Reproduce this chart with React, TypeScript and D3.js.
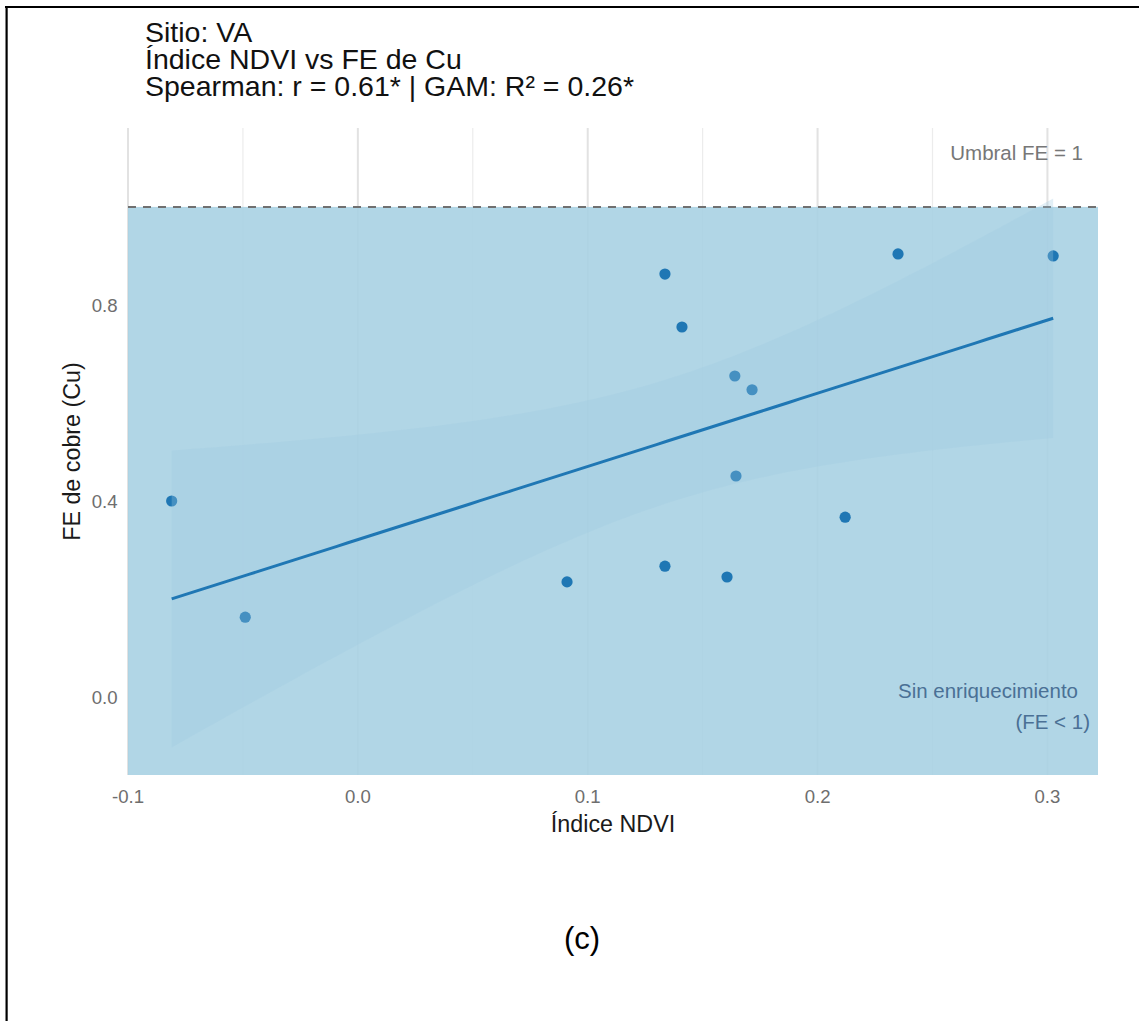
import React from "react";
import * as d3 from "d3";

// NDVI index and copper enrichment factor (FE) per sample, site VA
const ndvi = [-0.081, -0.049, 0.091, 0.1336, 0.1336, 0.141, 0.1606, 0.164, 0.1715, 0.1645, 0.212, 0.235, 0.3025];
const feCu = [0.4, 0.163, 0.235, 0.863, 0.267, 0.755, 0.245, 0.655, 0.627, 0.451, 0.367, 0.904, 0.9];

const xTicks = [-0.1, 0.0, 0.1, 0.2, 0.3];
const xMinor = [-0.05, 0.05, 0.15, 0.25];
const yTicks = [0.0, 0.4, 0.8];
const titleLines = ["Sitio: VA", "Índice NDVI vs FE de Cu", "Spearman: r = 0.61* | GAM: R² = 0.26*"];
const threshold = 1;

const W = 1148;
const H = 1021;
const panel = { left: 128, right: 1098, top: 128, bottom: 775 };
const FONT = "'Liberation Sans', Arial, Helvetica, sans-serif";

const x = d3.scaleLinear().domain([-0.1, 0.322]).range([panel.left, panel.right]);
const y = d3.scaleLinear().domain([-0.159, 1.161]).range([panel.bottom, panel.top]);

// linear smooth with a 95% normal-approximation band
function smoothFit(xs: number[], ys: number[]) {
  const n = xs.length;
  const mx = d3.mean(xs) as number;
  const my = d3.mean(ys) as number;
  let sxx = 0;
  let sxy = 0;
  xs.forEach((xi, i) => {
    sxx += (xi - mx) * (xi - mx);
    sxy += (xi - mx) * (ys[i] - my);
  });
  const b = sxy / sxx;
  const a = my - b * mx;
  const sse = d3.sum(xs, (xi, i) => (ys[i] - (a + b * xi)) ** 2);
  const s = Math.sqrt(sse / (n - 2));
  const z = 1.959964;
  const [x0, x1] = d3.extent(xs) as [number, number];
  return d3.range(81).map((i) => {
    const xv = x0 + ((x1 - x0) * i) / 80;
    const fit = a + b * xv;
    const se = s * Math.sqrt(1 / n + (xv - mx) ** 2 / sxx);
    return { x: xv, fit, lo: fit - z * se, hi: fit + z * se };
  });
}

// plain hyphen-minus for negative tick labels
const fmt = (v: number) => d3.format(".1f")(v).replace("\u2212", "-");

export default function App() {
  const band = smoothFit(ndvi, feCu);
  const area = d3
    .area<{ x: number; lo: number; hi: number }>()
    .x((d) => x(d.x))
    .y0((d) => y(d.lo))
    .y1((d) => y(d.hi));
  const line = d3
    .line<{ x: number; fit: number }>()
    .x((d) => x(d.x))
    .y((d) => y(d.fit));

  return (
    <svg
      width={W}
      height={H}
      viewBox={`0 0 ${W} ${H}`}
      style={{ position: "absolute", left: 0, top: 0, background: "#fff" }}
      fontFamily={FONT}
    >
      {/* frame */}
      <line x1={5} x2={1139} y1={7} y2={7} stroke="#000" strokeWidth={2.2} />
      <line x1={6.6} x2={6.6} y1={6} y2={H} stroke="#000" strokeWidth={2.2} />

      {/* title */}
      <text fontSize={28.5} fill="#111">
        {titleLines.map((t, i) => (
          <tspan key={t} x={145} y={42 + i * 27}>
            {t}
          </tspan>
        ))}
      </text>

      {/* vertical grid */}
      {xMinor.map((v) => (
        <line key={`m${v}`} x1={x(v)} x2={x(v)} y1={panel.top} y2={panel.bottom} stroke="#ececec" strokeWidth={1.2} />
      ))}
      {xTicks.map((v) => (
        <line key={`g${v}`} x1={x(v)} x2={x(v)} y1={panel.top} y2={panel.bottom} stroke="#e2e2e2" strokeWidth={2} />
      ))}

      {/* region below the enrichment threshold */}
      <rect
        x={panel.left}
        y={y(threshold)}
        width={panel.right - panel.left}
        height={panel.bottom - y(threshold)}
        fill="#a8d1e3"
        fillOpacity={0.9}
      />
      <line
        x1={panel.left}
        x2={panel.right}
        y1={y(threshold)}
        y2={y(threshold)}
        stroke="#707070"
        strokeWidth={2}
        strokeDasharray="8 7"
      />

      {/* samples */}
      {ndvi.map((v, i) => (
        <circle key={i} cx={x(v)} cy={y(feCu[i])} r={5.6} fill="#1f77b4" />
      ))}

      {/* smooth */}
      <path d={area(band) || ""} fill="#9ecae1" fillOpacity={0.3} />
      <path d={line(band) || ""} fill="none" stroke="#1f77b4" strokeWidth={3} />

      {/* annotations */}
      <text x={1083} y={160} textAnchor="end" fontSize={20.5} fill="#777">
        Umbral FE = 1
      </text>
      <text x={1078} y={698} textAnchor="end" fontSize={20.5} fill="#4a7095">
        Sin enriquecimiento
      </text>
      <text x={1090} y={729} textAnchor="end" fontSize={20.5} fill="#4a7095">
        (FE &lt; 1)
      </text>

      {/* axes */}
      {xTicks.map((v) => (
        <text key={`xt${v}`} x={x(v)} y={803} textAnchor="middle" fontSize={18.6} fill="#6e6e6e">
          {fmt(v)}
        </text>
      ))}
      {yTicks.map((v) => (
        <text key={`yt${v}`} x={117.5} y={y(v) + 6.7} textAnchor="end" fontSize={18.6} fill="#6e6e6e">
          {fmt(v)}
        </text>
      ))}
      <text x={(panel.left + panel.right) / 2} y={832} textAnchor="middle" fontSize={23.3} fill="#1a1a1a">
        Índice NDVI
      </text>
      <text
        transform={`translate(80, ${(panel.top + panel.bottom) / 2}) rotate(-90)`}
        textAnchor="middle"
        fontSize={23.3}
        fill="#1a1a1a"
      >
        FE de cobre (Cu)
      </text>

      {/* panel caption */}
      <text x={582} y={949} textAnchor="middle" fontSize={31} fill="#000">
        (c)
      </text>
    </svg>
  );
}
